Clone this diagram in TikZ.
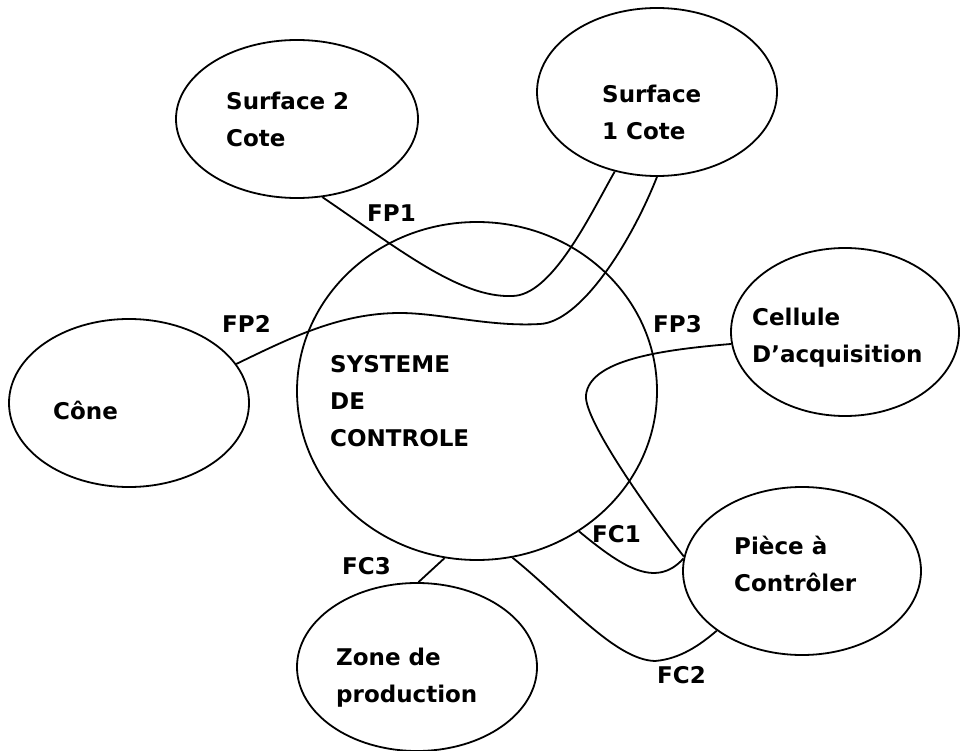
\documentclass[tikz,border=0pt]{standalone}
\usepackage{fontspec}
\setmainfont{DejaVu Sans}
\usetikzlibrary{shapes.geometric}
\begin{document}
\begin{tikzpicture}[x=1pt,y=-1pt,
  bubble/.style={draw, ellipse, inner sep=0pt, line width=1.8pt},
  link/.style={line width=1.8pt},
  lbl/.style={anchor=base west, inner sep=0pt, align=left,
    font=\fontsize{23}{37}\selectfont\bfseries},
]
\useasboundingbox (0,0) rectangle (961,751);

% central system and its surroundings
\node[bubble, minimum width=360pt, minimum height=338pt] (sys)   at (477,391) {};
\node[bubble, minimum width=242pt, minimum height=158pt] (surf2) at (297,119) {};
\node[bubble, minimum width=240pt, minimum height=168pt] (surf1) at (657,92)  {};
\node[bubble, minimum width=240pt, minimum height=168pt] (cone)  at (129,403) {};
\node[bubble, minimum width=228pt, minimum height=168pt] (cell)  at (845,332) {};
\node[bubble, minimum width=238pt, minimum height=168pt] (piece) at (802,571) {};
\node[bubble, minimum width=240pt, minimum height=168pt] (zone)  at (417,667) {};

% texts (anchored on the baseline of their last line)
\node[lbl] (tsys)   at (330,446) {SYSTEME\\DE\\CONTROLE};
\node[lbl] (tsurf2) at (226,147) {Surface 2\\Cote};
\node[lbl] (tsurf1) at (602,140) {Surface\\1 Cote};
\node[lbl] (tcone)  at (53,419)  {Cône};
\node[lbl] (tcell)  at (752,362) {Cellule\\D’acquisition};
\node[lbl] (tpiece) at (734,591) {Pièce à\\Contrôler};
\node[lbl] (tzone)  at (336,702) {Zone de\\production};

% function labels
\node[lbl] (fp1) at (367,222) {FP1};
\node[lbl] (fp2) at (222,333) {FP2};
\node[lbl] (fp3) at (653,333) {FP3};
\node[lbl] (fc1) at (592,542) {FC1};
\node[lbl] (fc2) at (657,683) {FC2};
\node[lbl] (fc3) at (342,574) {FC3};

% functions
\draw[link] (surf2.-72) .. controls (400,250) and (460,298) .. (512,296)
  .. controls (552,296) and (590,215) .. (surf1.-118);
\draw[link] (cone.20) .. controls (290,338) and (340,313) .. (400,313)
  .. controls (440,313) and (490,327) .. (540,324)
  .. controls (580,322) and (630,245) .. (surf1.-90);
\draw[link] (cell.186) .. controls (660,350) and (590,360) .. (586,395)
  .. controls (583,420) and (655,520) .. (piece.173);
\draw[link] (sys.-54) .. controls (620,565) and (655,590) .. (piece.174);
\draw[link] (sys.-78) .. controls (565,600) and (615,660) .. (655,661)
  .. controls (680,659) and (700,645) .. (piece.215);
\draw[link] (sys.-101) -- (zone.89);
\end{tikzpicture}
\end{document}
